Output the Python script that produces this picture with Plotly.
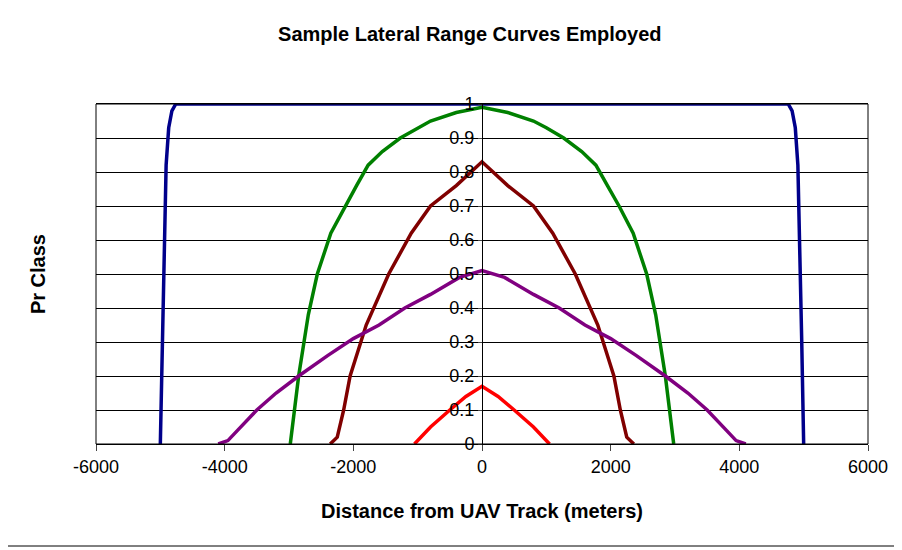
import plotly.graph_objs as go

# lateral range curves (distance in meters, probability)
blue_x = [-5000, -4970, -4940, -4910, -4870, -4820, -4760, 0, 4760, 4820, 4870, 4910, 4940, 4970, 5000]
blue_y = [0, 0.3, 0.6, 0.82, 0.93, 0.98, 1, 1, 1, 0.98, 0.93, 0.82, 0.6, 0.3, 0]

green_x = [-2980, -2850, -2700, -2560, -2350, -2130, -1950, -1770, -1550, -1270, -1000, -800, -400, 0,
           400, 800, 1000, 1270, 1550, 1770, 1950, 2130, 2350, 2560, 2700, 2850, 2980]
green_y = [0, 0.2, 0.38, 0.5, 0.62, 0.7, 0.76, 0.82, 0.86, 0.9, 0.93, 0.95, 0.975, 0.99,
           0.975, 0.95, 0.93, 0.9, 0.86, 0.82, 0.76, 0.7, 0.62, 0.5, 0.38, 0.2, 0]

red_x = [-2360, -2250, -2150, -2050, -1800, -1450, -1100, -800, -400, 0,
         400, 800, 1100, 1450, 1800, 2050, 2150, 2250, 2360]
red_y = [0, 0.02, 0.1, 0.2, 0.35, 0.5, 0.62, 0.7, 0.76, 0.83,
         0.76, 0.7, 0.62, 0.5, 0.35, 0.2, 0.1, 0.02, 0]

purple_x = [-4100, -3950, -3800, -3500, -3200, -2850, -2400, -2000, -1600, -1200, -800, -350, 0,
            350, 800, 1200, 1600, 2000, 2400, 2850, 3200, 3500, 3800, 3950, 4100]
purple_y = [0, 0.01, 0.04, 0.1, 0.15, 0.2, 0.26, 0.31, 0.35, 0.4, 0.44, 0.49, 0.51,
            0.49, 0.44, 0.4, 0.35, 0.31, 0.26, 0.2, 0.15, 0.1, 0.04, 0.01, 0]

pink_x = [-1050, -800, -500, -250, 0, 250, 500, 800, 1050]
pink_y = [0, 0.05, 0.1, 0.14, 0.17, 0.14, 0.1, 0.05, 0]

x_ticks = [-6000, -4000, -2000, 0, 2000, 4000, 6000]
x_labels = ["-6000", "-4000", "-2000", "0", "2000", "4000", "6000"]

series = [(blue_x, blue_y, "#00008B"), (green_x, green_y, "#008000"),
          (red_x, red_y, "#800000"), (purple_x, purple_y, "#800080"),
          (pink_x, pink_y, "#FF0000")]

fig = go.Figure()
for xs, ys, c in series:
    fig.add_trace(go.Scatter(x=xs, y=ys, mode="lines", line=dict(color=c, width=3.5),
                             showlegend=False, cliponaxis=False))

f = dict(family="Liberation Sans, Arial", color="black")
fig.update_layout(
    width=902, height=550, paper_bgcolor="white", plot_bgcolor="white",
    margin=dict(l=88, r=42, t=96, b=114),
    title=dict(text="<b>Sample Lateral Range Curves Employed</b>", x=0.512, y=0.965,
               xanchor="center", font=dict(size=20, **f)),
    xaxis=dict(range=[-6000, 6000], tickvals=x_ticks, ticktext=x_labels, showgrid=False,
               zeroline=False, showline=True, linecolor="black", mirror=True, ticks="outside",
               ticklen=6, tickfont=dict(size=18, **f),
               title=dict(text="<b>Distance from UAV Track (meters)</b>", font=dict(size=20, **f),
                          standoff=28)),
    yaxis=dict(range=[0, 1], dtick=0.1, showgrid=True, gridcolor="black", gridwidth=1,
               zeroline=False, showline=True, linecolor="black", ticks="outside", ticklen=4,
               tickfont=dict(size=18, **f), anchor="free", position=0.5),
    shapes=[dict(type="rect", xref="paper", yref="paper", x0=-0.12, x1=1.038, y0=-0.3, y1=1.29,
                 line=dict(color="black", width=1)),
            dict(type="rect", xref="paper", yref="paper", x0=0, x1=1, y0=0, y1=1,
                 line=dict(color="black", width=1))],
    annotations=[dict(text="<b>Pr Class</b>", xref="paper", yref="paper", x=-0.075, y=0.5,
                      xanchor="center", textangle=-90, showarrow=False, font=dict(size=20, **f))],
)
fig.write_html("out.html")
